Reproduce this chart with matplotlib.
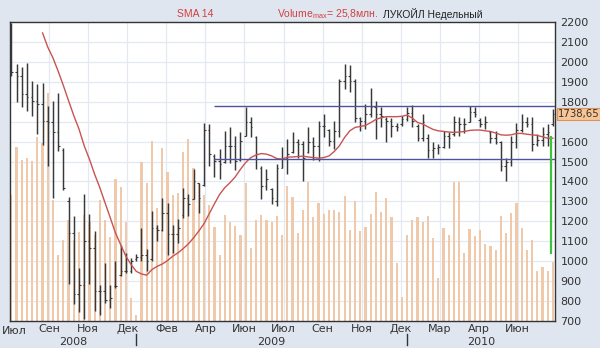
import numpy as np
import pandas as pd
import matplotlib
matplotlib.use('Agg')
import matplotlib.pyplot as plt
import matplotlib.transforms as mtransforms

plt.rcParams['font.family'] = ['DejaVu Sans']
plt.rcParams['mathtext.default'] = 'regular'

# weekly LKOH bars, first week ending 18 Jul 2008
first_week = '2008-07-18'
highs = [2195, 1987, 1973, 1993, 1906, 1889, 1894, 1780, 1802, 1842,
         1567, 1322, 1226, 966, 1339, 1235, 1151, 882, 991, 882,
         999, 1083, 1041, 1016, 1036, 1167, 1062, 1252, 1181, 1319,
         1294, 1184, 1210, 1369, 1335, 1461, 1394, 1691, 1688, 1537,
         1562, 1654, 1671, 1629, 1646, 1775, 1725, 1629, 1478, 1465,
         1369, 1487, 1574, 1612, 1646, 1612, 1601, 1671, 1624, 1705,
         1738, 1663, 1705, 1915, 1990, 1982, 1915, 1722, 1789, 1869,
         1805, 1772, 1722, 1718, 1691, 1730, 1772, 1785, 1688, 1738,
         1638, 1596, 1587, 1654, 1646, 1730, 1721, 1718, 1780, 1772,
         1716, 1730, 1654, 1654, 1604, 1520, 1629, 1691, 1738, 1725,
         1721, 1638, 1675, 1688, 1764]
lows = [1930, 1797, 1772, 1755, 1730, 1637, 1584, 1478, 1318, 1554,
        1355, 885, 785, 743, 711, 885, 748, 731, 790, 764,
        865, 924, 941, 941, 1003, 999, 951, 1003, 1101, 1151,
        1033, 1042, 1092, 1218, 1226, 1310, 1240, 1377, 1478, 1423,
        1414, 1495, 1495, 1456, 1503, 1629, 1624, 1461, 1310, 1355,
        1285, 1277, 1467, 1436, 1545, 1520, 1402, 1545, 1507, 1503,
        1621, 1579, 1562, 1621, 1864, 1847, 1696, 1654, 1663, 1721,
        1612, 1671, 1596, 1621, 1651, 1680, 1705, 1675, 1604, 1604,
        1520, 1520, 1537, 1570, 1570, 1629, 1629, 1642, 1696, 1721,
        1671, 1663, 1595, 1587, 1453, 1402, 1478, 1570, 1646, 1671,
        1554, 1579, 1579, 1579, 1680]
opens = [2150, 1948, 1930, 1839, 1822, 1805, 1789, 1705, 1696, 1646,
         1560, 1300, 1142, 835, 879, 1100, 1067, 849, 849, 807,
         874, 930, 949, 949, 1010, 1020, 1033, 1010, 1167, 1159,
         1243, 1134, 1134, 1230, 1319, 1310, 1390, 1380, 1660, 1530,
         1503, 1500, 1579, 1579, 1510, 1630, 1696, 1625, 1470, 1377,
         1360, 1300, 1470, 1520, 1550, 1596, 1587, 1550, 1596, 1579,
         1680, 1660, 1604, 1654, 1905, 1931, 1906, 1720, 1705, 1738,
         1772, 1738, 1715, 1705, 1680, 1690, 1713, 1742, 1680, 1620,
         1620, 1560, 1570, 1575, 1630, 1640, 1700, 1690, 1700, 1750,
         1710, 1690, 1650, 1620, 1600, 1480, 1500, 1600, 1660, 1700,
         1690, 1590, 1610, 1640, 1690]
closes = [1948, 1930, 1839, 1822, 1805, 1789, 1705, 1696, 1646, 1580,
          1369, 1142, 835, 879, 1100, 1067, 849, 849, 807, 815,
          874, 949, 949, 1000, 1020, 1033, 1000, 1167, 1159, 1243,
          1134, 1134, 1167, 1319, 1285, 1403, 1319, 1660, 1537, 1503,
          1486, 1579, 1579, 1503, 1604, 1696, 1671, 1537, 1377, 1411,
          1319, 1470, 1520, 1537, 1596, 1587, 1520, 1596, 1579, 1680,
          1680, 1604, 1654, 1905, 1931, 1906, 1720, 1705, 1738, 1772,
          1738, 1730, 1705, 1680, 1671, 1713, 1742, 1701, 1620, 1700,
          1560, 1570, 1575, 1630, 1620, 1700, 1690, 1690, 1750, 1740,
          1690, 1700, 1620, 1600, 1480, 1500, 1600, 1660, 1700, 1690,
          1590, 1610, 1640, 1650, 1738.65]
# volume, mln shares
volumes = [14.28, 19.76, 18.25, 18.51, 18.13, 20.89, 20.13, 25.8, 13.71, 7.48,
           9.18, 11.45, 9.18, 10.12, 12.01, 11.26, 9.75, 13.71, 11.45, 9.56,
           16.09, 15.15, 11.26, 2.61, 0.68, 18.06, 15.60, 20.40, 12.77, 19.64,
           16.92, 14.28, 14.47, 19.15, 20.59, 17.38, 15.60, 14.28, 13.15, 10.69,
           7.48, 12.01, 11.26, 10.77, 9.75, 15.60, 8.24, 11.45, 12.01, 11.45,
           11.18, 11.86, 9.75, 15.34, 14.09, 9.93, 12.58, 15.71, 11.82, 13.33,
           12.09, 12.62, 12.62, 12.39, 14.17, 10.35, 13.56, 10.16, 10.69, 12.09,
           14.66, 12.31, 13.90, 11.82, 6.54, 2.76, 9.75, 11.45, 11.82, 11.26,
           11.90, 9.44, 4.91, 10.50, 9.75, 15.79, 15.79, 7.74, 10.39, 9.67,
           10.31, 8.69, 8.54, 8.05, 11.90, 9.93, 12.28, 13.33, 10.58, 8.05,
           9.18, 5.70, 6.08, 5.70, 6.72]
volume_max = 25.8
# 14-week moving average, from week 6 on
sma_start = 6
sma14 = [2145, 2074, 2020, 1953, 1881, 1805, 1730, 1663, 1579, 1512,
         1436, 1369, 1293, 1218, 1142, 1083, 1025, 983, 949, 936,
         930, 958, 974, 986, 1003, 1025, 1042, 1063, 1087, 1117,
         1151, 1188, 1238, 1288, 1335, 1369, 1394, 1423, 1461, 1495,
         1520, 1533, 1540, 1537, 1528, 1515, 1512, 1522, 1523, 1525,
         1527, 1523, 1520, 1517, 1520, 1528, 1550, 1579, 1621, 1654,
         1671, 1676, 1681, 1695, 1711, 1720, 1725, 1725, 1725, 1727,
         1733, 1718, 1696, 1688, 1674, 1661, 1654, 1651, 1648, 1646,
         1648, 1651, 1656, 1658, 1658, 1654, 1651, 1643, 1634, 1632,
         1634, 1641, 1641, 1637, 1634, 1631, 1624, 1617, 1617]
# channel lines
channel_levels = [1780, 1512]
channel_from = 39
# last-bar marker
marker_range = (1037, 1628)

month_labels = ['Сен', 'Ноя', 'Дек', 'Фев', 'Апр', 'Июн', 'Июл',
                'Сен', 'Ноя', 'Дек', 'Мар', 'Апр', 'Июн']
years = ['2008', '2009', '2010']

n = len(highs)
x = np.arange(n)
start = pd.Timestamp(first_week)
year_edges = [(pd.Timestamp(f'{y}-01-01') - start).days / 7 for y in years[1:]]

xmin, xmax = -0.25, n - 0.6
rect = [10 / 600, 27 / 348, 545 / 600, 299 / 348]
grid_col = '#e3e8f1'
txt_col = '#333333'

fig = plt.figure(figsize=(6, 3.48), dpi=100, facecolor='#dfe6ef')

# volume underneath, scaled so the biggest week reaches ~3/4 of the height
vax = fig.add_axes(rect)
vax.set_facecolor('white')
vtop = volume_max * 299 / 227.7
vax.set_ylim(0, vtop)
vax.set_xlim(xmin, xmax)
vax.bar(x, volumes, width=0.42, color='#f0c9ab', zorder=2)
vax.set_xticks([])
vax.set_yticks([])
for s in vax.spines.values():
    s.set_visible(False)

grid_pos = 7.29 + 7.497 * np.arange(len(month_labels))
for gp in grid_pos:
    vax.axvline(gp, color=grid_col, lw=0.9, zorder=1)
for lv in range(800, 2200, 100):
    vax.axhline((lv - 700) / 1500 * vtop, color=grid_col, lw=0.9, zorder=1)

ax = fig.add_axes(rect)
ax.set_facecolor('none')
ax.set_ylim(700, 2200)
ax.set_xlim(xmin, xmax)

# price bars
bar_col = '#383838'
ax.vlines(x, lows, highs, color=bar_col, lw=1.05, zorder=3)
ax.hlines(opens, x - 0.3, x, color=bar_col, lw=0.8, zorder=3)
ax.hlines(closes, x, x + 0.3, color=bar_col, lw=0.8, zorder=3)

ax.plot(x[sma_start:], sma14, color='#c85452', lw=1.0, zorder=4)

ax.hlines(channel_levels, channel_from, xmax, color='#50529e', lw=1.0, zorder=4)
ax.vlines(x[-1] - 0.4, marker_range[0], marker_range[1], color='#3cc43c', lw=1.6, zorder=5)

# axes cosmetics
for s in ax.spines.values():
    s.set_color(txt_col)
    s.set_linewidth(1.0)
ax.yaxis.tick_right()
yt = np.arange(700, 2201, 100)
ax.set_yticks(yt)
ax.set_yticklabels(['' if v == 1700 else str(v) for v in yt])
ax.tick_params(axis='y', length=0, pad=4, labelsize=8, labelcolor=txt_col)
ax.set_xticks(grid_pos)
ax.set_xticklabels(month_labels)
ax.tick_params(axis='x', length=0, pad=2, labelsize=8, labelcolor=txt_col)

bt = mtransforms.blended_transform_factory(ax.transData, ax.transAxes)
ax.text(0.55, -0.018, 'Июл', transform=bt, ha='center', va='top', fontsize=8, color=txt_col)
bounds = [xmin] + year_edges + [xmax]
for i, y in enumerate(years):
    ax.text((bounds[i] + bounds[i + 1]) / 2, -0.055, y, transform=bt,
            ha='center', va='top', fontsize=8, color=txt_col)
for e in year_edges:
    ax.plot([e, e], [-0.043, -0.08], transform=bt, color=txt_col, lw=1.0, clip_on=False)

# last price tag
lt = mtransforms.blended_transform_factory(ax.transAxes, ax.transData)
ax.text(1.005, closes[-1], f'{closes[-1]:.2f}'.replace('.', ','), transform=lt,
        ha='left', va='center', fontsize=7.3, color=txt_col, zorder=6,
        bbox=dict(boxstyle='square,pad=0.12', fc='#f7c697', ec='#e39050', lw=0.8))

# header
hdr = ['Liberation Sans', 'DejaVu Sans']
fig.text(0.325, 0.96, 'SMA 14', ha='center', va='center', fontsize=7.5,
         color='#d2403f', family=hdr)
fig.text(0.462, 0.96, 'Volume$_{max}$= 25,8млн.', ha='left', va='center', fontsize=7.5,
         color='#d2403f', family=hdr)
fig.text(0.638, 0.96, 'ЛУКОЙЛ Недельный', ha='left', va='center', fontsize=7.5,
         color='#222222', family=hdr)

fig.savefig('out.png', dpi=100, facecolor=fig.get_facecolor())
